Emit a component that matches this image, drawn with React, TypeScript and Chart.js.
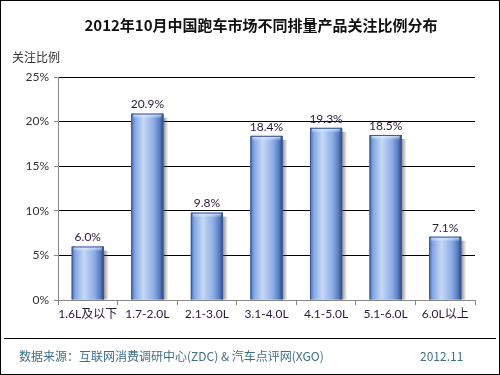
import React, { useEffect, useRef } from "react";
import { Chart, registerables } from "chart.js";

Chart.register(...registerables);

const categories = ["1.6L及以下", "1.7-2.0L", "2.1-3.0L", "3.1-4.0L", "4.1-5.0L", "5.1-6.0L", "6.0L以上"];
const shares = [6.0, 20.9, 9.8, 18.4, 19.3, 18.5, 7.1];
const titleText = "2012年10月中国跑车市场不同排量产品关注比例分布";
const yAxisTitle = "关注比例";
const sourceText = "数据来源：互联网消费调研中心(ZDC) & 汽车点评网(XGO)";
const dateText = "2012.11";

const FONT = "'Lato', 'Noto Sans CJK SC', sans-serif";

const barStylePlugin = {
  id: "barStyle",
  afterDatasetsDraw(chart: any) {
    const c = chart.ctx;
    const meta = chart.getDatasetMeta(0);
    c.save();
    meta.data.forEach((el: any) => {
      const w = el.width;
      const x0 = el.x - w / 2;
      const top = el.y;
      const bottom = el.base;
      const h = bottom - top;
      // drop shadow on the right
      const sg = c.createLinearGradient(x0 + w, 0, x0 + w + 5, 0);
      sg.addColorStop(0, "rgba(60,60,60,0.55)");
      sg.addColorStop(1, "rgba(60,60,60,0)");
      c.fillStyle = sg;
      c.fillRect(x0 + w, top + 4, 5, h - 4);
      // body gradient
      const g = c.createLinearGradient(x0, 0, x0 + w, 0);
      g.addColorStop(0, "#4a6fb5");
      g.addColorStop(0.12, "#86a8e4");
      g.addColorStop(0.38, "#c6d8f6");
      g.addColorStop(0.7, "#8cade6");
      g.addColorStop(0.88, "#5a7ec2");
      g.addColorStop(1, "#2c467c");
      c.fillStyle = g;
      c.fillRect(x0, top, w, h);
      // top bevel
      const bh = Math.min(5, h);
      const tg = c.createLinearGradient(0, top, 0, top + bh);
      tg.addColorStop(0, "rgba(230,240,255,0.9)");
      tg.addColorStop(1, "rgba(230,240,255,0)");
      c.fillStyle = tg;
      c.fillRect(x0 + 2, top, w - 4, bh);
      // outline
      c.strokeStyle = "#3a5896";
      c.lineWidth = 1;
      c.beginPath();
      c.moveTo(x0 + 0.5, bottom);
      c.lineTo(x0 + 0.5, top + 0.5);
      c.lineTo(x0 + w - 0.5, top + 0.5);
      c.lineTo(x0 + w - 0.5, bottom);
      c.stroke();
    });
    c.restore();
  },
};

const decorPlugin = {
  id: "decor",
  beforeDraw(chart: any) {
    const c = chart.ctx;
    c.save();
    c.fillStyle = "#ffffff";
    c.fillRect(0, 0, chart.width, chart.height);
    c.restore();
  },
  afterDraw(chart: any) {
    const c = chart.ctx;
    c.save();
    c.strokeStyle = "#000";
    c.lineWidth = 1;
    c.strokeRect(0.5, 0.5, chart.width - 1, chart.height - 1);
    c.fillStyle = "#111";
    c.font = "bold 15px 'Noto Sans CJK SC', sans-serif";
    c.textAlign = "center";
    c.textBaseline = "middle";
    c.fillText(titleText, 261, 25);
    c.font = "12px 'Noto Sans CJK SC', sans-serif";
    c.fillStyle = "#333";
    c.textAlign = "left";
    c.fillText(yAxisTitle, 12, 57);
    c.beginPath();
    c.moveTo(4, 338.5);
    c.lineTo(496, 338.5);
    c.strokeStyle = "#000";
    c.stroke();
    c.fillStyle = "#3f7088";
    c.font = "12px 'Noto Sans CJK SC', sans-serif";
    c.fillText(sourceText, 19, 356);
    c.fillText(dateText, 420, 356);
    const meta = chart.getDatasetMeta(0);
    c.font = "12px " + FONT;
    c.fillStyle = "#2a1a3a";
    c.textAlign = "center";
    c.textBaseline = "bottom";
    meta.data.forEach((el: any, i: number) => {
      c.fillText(shares[i].toFixed(1) + "%", el.x, el.y - 3);
    });
    c.restore();
  },
};

export default function App() {
  const ref = useRef<HTMLCanvasElement>(null);
  useEffect(() => {
    document.body.style.margin = "0";
    const canvas = ref.current!;
    const chart = new Chart(canvas, {
      type: "bar",
      data: {
        labels: categories,
        datasets: [
          {
            data: shares,
            barPercentage: 0.54,
            categoryPercentage: 1,
            borderWidth: 0,
            backgroundColor: "#86a8e4",
          },
        ],
      },
      options: {
        animation: false,
        responsive: false,
        maintainAspectRatio: false,
        layout: { padding: { left: 0, right: 25, top: 77, bottom: 45 } },
        plugins: {
          legend: { display: false },
          tooltip: { enabled: false },
          title: { display: false },
        },
        scales: {
          x: {
            offset: true,
            grid: {
              offset: true,
              drawOnChartArea: false,
              drawTicks: true,
              tickLength: 5,
              tickColor: "#888",
            },
            border: { color: "#888", width: 1 },
            ticks: {
              color: "#2a1a3a",
              font: { family: FONT, size: 12 },
              padding: 2,
              maxRotation: 0,
              autoSkip: false,
            },
            afterFit: (s: any) => {
              s.height = 30;
            },
          },
          y: {
            min: 0,
            max: 25,
            ticks: {
              stepSize: 5,
              color: "#333",
              font: { family: FONT, size: 12 },
              padding: 5,
              callback: (v: any) => v + "%",
            },
            grid: {
              color: (ctx: any) => (ctx.index === 0 ? "#888" : "#000"),
              tickColor: "#888",
              tickLength: 4,
            },
            border: { color: "#888", width: 1 },
            afterFit: (s: any) => {
              s.width = 58;
            },
          },
        },
      },
      plugins: [barStylePlugin, decorPlugin],
    } as any);
    return () => chart.destroy();
  }, []);
  return <canvas ref={ref} width={500} height={375} style={{ display: "block", width: 500, height: 375 }} />;
}
